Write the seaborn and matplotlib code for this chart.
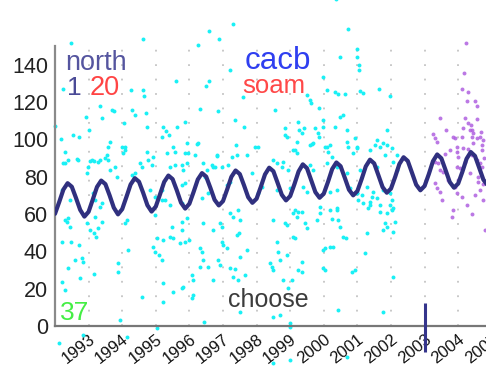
import numpy as np
import pandas as pd
import matplotlib
matplotlib.use("Agg")
import matplotlib.pyplot as plt
import seaborn as sns

sns.set_style("white")
plt.rcParams["font.family"] = ["Liberation Sans", "DejaVu Sans"]

# axis ticks
year_ticks = list(range(1993, 2006))
value_ticks = list(range(0, 141, 20))

# seasonal trend curve, sampled every eighth of a year from 1992.0
wave_start = 1992.0
wave_step = 0.125
wave_values = [
    60.1, 66.4, 73.1, 76.5, 74.6, 68.6, 62.2, 58.6,
    61.2, 67.8, 74.5, 77.9, 76.0, 70.0, 63.4, 59.8,
    62.6, 69.1, 75.8, 79.2, 77.3, 71.3, 64.7, 61.3,
    64.0, 70.5, 77.2, 80.6, 78.7, 72.7, 66.1, 62.9,
    65.5, 71.8, 78.5, 81.9, 80.0, 74.0, 67.6, 64.6,
    66.9, 73.2, 79.9, 83.3, 81.4, 75.4, 69.0, 66.0,
    68.2, 74.5, 81.2, 84.8, 82.9, 76.7, 70.3, 67.3,
    69.6, 75.9, 82.8, 86.6, 84.5, 78.1, 71.7, 68.7,
    70.9, 77.2, 84.1, 87.6, 85.6, 79.4, 73.0, 70.0,
    72.3, 78.6, 85.5, 89.1, 87.1, 80.8, 74.4, 71.4,
    73.6, 79.9, 86.8, 90.4, 88.4, 82.1, 75.7, 72.7,
    75.0, 81.3, 88.3, 91.9, 89.8, 83.5, 77.1, 74.1,
    76.3, 82.6, 89.6, 93.2, 91.1, 84.8, 78.4, 75.4,
    77.7, 84.0,
]

# observations, first period (year, value)
cyan_points = [
    (1992.48, 151.7), (1994.62, 153.9), (1996.58, 158.2), (1996.88, 153.9), (1997.30, 161.9),
    (1996.26, 150.7), (1997.21, 137.3), (1996.58, 131.4), (1996.49, 128.7), (1995.60, 131.4),
    (1994.62, 126.5), (1994.65, 123.3), (1994.26, 126.5), (1992.24, 127.1), (1993.34, 118.0),
    (1993.40, 111.5), (1993.70, 115.8), (1993.76, 115.3), (1994.29, 115.8), (1994.38, 113.1),
    (1994.71, 114.2), (1994.05, 108.8), (1992.92, 112.1), (1993.01, 105.1), (1992.54, 102.4),
    (1992.71, 101.3), (1992.00, 107.2), (1993.64, 98.7), (1993.58, 96.0), (1994.08, 96.0),
    (1994.74, 106.7), (1995.21, 106.7), (1995.30, 104.6), (1995.63, 106.7), (1995.87, 109.4),
    (1995.93, 98.1), (1996.23, 97.6), (1996.32, 116.4), (1996.85, 115.3), (1997.36, 110.5),
    (1997.39, 97.1), (1996.82, 91.2), (1995.18, 101.3), (1995.39, 102.4), (1995.51, 96.0),
    (1995.57, 93.3), (1995.87, 92.8), (1995.93, 87.4), (1996.17, 91.7), (1996.40, 87.4),
    (1996.52, 83.6), (1996.70, 85.3), (1994.74, 93.3), (1994.77, 89.0), (1994.53, 87.4),
    (1994.59, 85.3), (1994.89, 86.3), (1994.92, 90.6), (1993.55, 91.7), (1993.58, 89.0),
    (1993.16, 88.5), (1993.34, 89.0), (1993.04, 88.5), (1992.30, 93.3), (1992.39, 89.0),
    (1992.24, 87.4), (1992.65, 89.5), (1992.18, 100.3), (1993.64, 83.6),
    (2000.36, 175.0), (2000.72, 159.0), (2000.99, 148.5), (2000.48, 144.0), (2000.99, 144.0),
    (2001.05, 140.0), (2001.05, 137.0), (1999.98, 133.5), (2000.10, 126.5), (2000.33, 125.5),
    (2000.42, 124.4), (2000.63, 124.4), (2001.08, 126.0), (2001.17, 125.0), (2001.64, 127.0),
    (2001.97, 123.0), (1999.50, 124.0), (1999.59, 121.0), (1999.86, 117.0), (1999.62, 119.6),
    (1998.55, 115.8), (1997.60, 122.8), (1997.63, 106.7), (1998.85, 106.2), (1998.90, 101.3),
    (1999.23, 109.4), (1999.26, 105.1), (1999.41, 106.2), (1999.74, 106.2), (1999.83, 103.5),
    (1999.86, 101.3), (1999.98, 110.5), (1999.98, 106.7), (2000.48, 112.0), (2000.57, 113.0),
    (2000.33, 106.7), (2000.69, 105.0), (2000.93, 100.8), (2000.99, 96.0), (2001.58, 99.7),
    (2001.52, 97.0), (2001.88, 105.0), (2001.76, 98.0), (2001.88, 97.0), (2002.03, 95.4),
    (2002.18, 91.7), (1999.20, 98.7), (1999.14, 94.4), (1999.65, 97.6), (2000.10, 96.0),
    (2000.13, 93.3), (2000.24, 90.6), (1998.49, 89.0), (1998.76, 85.3), (1997.71, 91.7),
    (1992.36, 55.8), (1992.45, 53.0), (1993.04, 51.5), (1993.16, 49.9), (1993.28, 52.5),
    (1993.22, 47.7), (1992.95, 55.2), (1994.08, 55.0), (1994.14, 56.8), (1992.20, 45.0),
    (1992.48, 45.0), (1992.71, 43.4), (1992.60, 35.4), (1992.80, 36.5), (1992.83, 34.3),
    (1992.39, 31.0), (1992.74, 25.7), (1993.16, 27.9), (1994.17, 40.8), (1993.88, 33.8),
    (1993.88, 29.0), (1994.59, 15.5), (1995.21, 12.9), (1994.92, 42.4), (1994.98, 39.7),
    (1995.10, 38.1), (1995.18, 35.4), (1995.04, 47.2), (1995.21, 46.1), (1995.42, 47.7),
    (1995.51, 47.2), (1995.72, 44.5), (1995.87, 45.0), (1995.99, 46.1), (1995.48, 53.1),
    (1995.78, 51.5), (1996.32, 41.8), (1996.38, 39.7), (1996.40, 35.4), (1996.55, 31.6),
    (1996.32, 31.6), (1996.08, 27.3), (1996.11, 24.7), (1995.81, 20.9), (1995.78, 20.4),
    (1996.11, 16.6), (1996.08, 15.0), (1996.70, 24.7), (1996.85, 35.4), (1996.91, 32.7),
    (1997.00, 43.4), (1996.97, 45.0), (1997.12, 41.8), (1997.48, 49.9), (1997.51, 37.0),
    (1997.21, 31.1), (1997.36, 30.6), (1997.30, 26.3), (1997.45, 24.7), (1997.51, 7.5),
    (1996.43, 2.1), (1995.51, 18.2), (1992.12, -9.0), (1992.83, -4.8), (1994.14, -5.9),
    (1995.04, -1.1), (1993.93, 3.2), (1995.21, 23.0), (1995.78, 55.8), (1995.93, 57.9),
    (1996.40, 55.2), (1996.70, 51.5), (1996.91, 55.2), (1996.97, 53.1), (1997.21, 60.6),
    (1997.30, 58.4), (1997.42, 48.8), (1992.21, 23.6), (1992.30, 19.3),
    (1999.08, 60.6), (1999.20, 58.4), (1999.23, 61.1), (1998.85, 55.2), (1998.90, 54.2),
    (1998.49, 56.8), (1997.51, 56.8), (1998.61, 45.0), (1999.08, 47.7), (1999.14, 47.2),
    (1999.44, 55.2), (1999.50, 52.5), (1999.80, 56.8), (1999.89, 60.6), (2000.18, 62.2),
    (2000.24, 57.4), (2000.39, 62.2), (2000.48, 53.1), (2000.42, 56.8), (1999.98, 40.8),
    (2000.04, 41.8), (2000.18, 42.4), (2000.27, 42.4), (2000.57, 47.7), (2000.66, 47.2),
    (2001.29, 49.9), (2001.23, 39.1), (2000.93, 30.0), (2000.84, 29.0), (1999.98, 31.1),
    (2000.04, 30.0), (1999.35, 34.3), (1999.35, 29.0), (1999.23, 30.0), (1998.64, 39.7),
    (1998.70, 35.4), (1998.90, 38.1), (1998.49, 30.0), (1998.79, 24.7), (1999.05, 24.7),
    (1998.93, 20.4), (1997.71, 40.8), (1997.65, 27.3), (1998.40, 33.8), (1998.46, 31.6),
    (2000.42, 8.6), (1998.49, 4.8), (1998.70, 5.9), (1998.99, 1.6), (2001.76, 7.5),
    (2002.06, 26.3), (2001.76, 51.5), (2001.88, 53.1), (2001.82, 55.2), (2002.06, 50.4),
    (2002.12, 55.8), (2001.88, 60.6), (2001.97, 64.9), (2002.03, 67.6), (2002.06, 63.3),
    (2001.67, 64.9), (2001.58, 68.6), (2001.38, 64.9), (2001.32, 63.3), (2001.43, 69.2),
    (2001.29, 74.5), (2001.02, 67.6), (2001.14, 70.2), (2000.99, 71.3), (1998.99, -18.2),
    (1998.49, -19.8), (2000.69, -16.6), (1998.99, -0.5),
    (1992.30, 87.4), (1992.68, 89.0), (1992.95, 82.0), (1992.98, 85.3), (1993.10, 89.0),
    (1993.28, 88.0), (1993.49, 90.0), (1993.79, 85.3), (1993.85, 79.9), (1994.00, 96.0),
    (1994.08, 94.4), (1994.02, 92.8), (1994.38, 82.0), (1994.29, 81.0), (1994.83, 72.9),
    (1995.18, 72.9), (1994.98, 69.2), (1995.18, 67.6), (1995.33, 92.8), (1995.42, 85.3),
    (1995.57, 86.3), (1995.78, 86.3), (1995.81, 83.6), (1996.26, 98.1), (1995.96, 92.8),
    (1995.87, 76.7), (1995.78, 75.6), (1996.46, 79.9), (1996.67, 86.3), (1996.76, 85.3),
    (1996.82, 91.7), (1997.27, 90.6), (1997.42, 91.7), (1996.97, 85.3), (1997.15, 86.3),
    (1997.12, 75.6), (1997.21, 77.2), (1997.45, 62.2), (1997.95, 96.0), (1998.04, 96.0),
    (1998.04, 71.3), (1998.16, 74.5), (1997.86, 82.0), (1996.38, 68.6), (1996.55, 71.3),
    (1995.78, 66.0), (1995.87, 63.8), (1995.42, 64.9), (1993.19, 58.4), (1993.40, 55.8),
    (1992.30, 56.8), (1992.39, 57.9), (1995.27, 67.6), (1994.98, 59.5), (1992.21, 72.9),
    (1993.40, 66.0), (1993.13, 71.3), (1993.19, 67.6), (1993.34, 63.8), (1992.45, 67.6),
    (1998.85, 102.4), (1999.35, 103.5), (1999.08, 94.4), (1999.20, 92.8), (1999.59, 97.0),
    (1999.68, 98.0), (2000.04, 96.0), (2000.18, 97.0), (2000.69, 98.7), (2000.72, 96.0),
    (2000.87, 92.8), (2000.99, 95.4), (2001.38, 94.4), (2001.67, 96.0), (2001.82, 91.7),
    (1998.61, 87.4), (1998.79, 88.0), (1998.93, 83.6), (1999.59, 86.3), (1999.68, 83.6),
    (2000.10, 87.4), (2000.39, 85.3), (2000.69, 82.0), (2001.08, 83.6), (2001.58, 85.3),
    (2002.06, 88.0), (2002.18, 83.6), (1998.61, 72.9), (1998.99, 74.0), (1999.38, 74.5),
    (1999.50, 71.8), (2000.18, 71.8), (2000.39, 72.9), (2000.78, 74.0), (2000.99, 71.3),
    (2001.46, 71.8), (2001.76, 72.9), (2001.97, 71.3), (1999.14, 62.2), (1999.35, 61.1),
    (1999.89, 63.8), (2000.39, 63.3), (2001.17, 66.0), (2001.38, 66.5), (2001.67, 61.1),
    (2002.03, 62.2),
]

# observations, second period (year, value)
violet_points = [
    (2004.23, 151.7), (2004.17, 135.7), (2004.11, 127.1), (2004.29, 125.5), (2004.26, 120.6),
    (2004.50, 120.6), (2003.46, 111.5), (2004.20, 111.5), (2004.56, 111.0), (2004.29, 108.8),
    (2004.38, 107.8), (2004.14, 106.2), (2004.41, 105.1), (2003.25, 103.0), (2003.31, 100.8),
    (2003.37, 98.7), (2003.90, 100.8), (2004.11, 101.3), (2004.41, 101.3), (2004.56, 100.8),
    (2004.65, 101.3), (2004.74, 99.7), (2004.44, 98.1), (2004.71, 97.0), (2003.76, 94.4),
    (2003.96, 93.3), (2003.99, 90.6), (2003.31, 87.9), (2003.40, 87.4), (2004.41, 91.7),
    (2004.56, 89.0), (2004.65, 87.4), (2003.96, 85.3), (2004.05, 84.7), (2003.46, 83.6),
    (2003.55, 82.6), (2004.35, 82.0), (2004.59, 77.2), (2003.31, 76.7), (2003.37, 74.0),
    (2003.46, 71.8), (2003.90, 74.5), (2003.96, 71.3), (2003.52, 67.6), (2003.85, 62.2),
    (2003.82, 58.4), (2004.74, 67.6), (2004.11, 69.2), (2004.80, 51.5), (2004.65, 72.9),
    (2004.35, 105.1), (2004.44, 103.5), (2003.96, 96.0), (2004.14, 95.4), (2004.71, 94.4),
    (2003.85, 101.3), (2004.60, 80.0), (2004.70, 85.0), (2004.78, 90.0), (2004.50, 70.0),
    (2004.25, 65.0), (2004.40, 60.0), (2003.70, 78.0), (2003.60, 92.0), (2004.00, 78.0),
    (2004.20, 88.0), (2004.30, 95.0), (2004.75, 76.0), (2004.68, 104.0), (2004.55, 118.0),
    (2003.65, 105.0),
]

# event marker under the 2003 tick
marker_year = 2003
marker_span = [-14.0, 12.5]

cyan_df = pd.DataFrame(cyan_points, columns=["year", "value"])
violet_df = pd.DataFrame(violet_points, columns=["year", "value"])
wave_df = pd.DataFrame({
    "year": wave_start + wave_step * np.arange(len(wave_values)),
    "value": wave_values,
})

fig = plt.figure(figsize=(4.86, 3.67), dpi=100)
ax = fig.add_axes([55 / 486, 41 / 367, 443.5 / 486, 280 / 367])

sns.scatterplot(data=cyan_df, x="year", y="value", color="#19f0f5", s=8,
                linewidth=0, ax=ax, clip_on=False, zorder=2)
sns.scatterplot(data=violet_df, x="year", y="value", color="#b060e0", s=8,
                linewidth=0, ax=ax, clip_on=False, zorder=2, alpha=0.85)
sns.lineplot(data=wave_df, x="year", y="value", color="#30307f", lw=3.0,
             ax=ax, zorder=3)
ax.plot([marker_year, marker_year], marker_span, color="#35358c", lw=2.2,
        clip_on=False, zorder=4, solid_capstyle="butt")

ax.set_xlim(1992, 2005.2)
ax.set_ylim(0, 150)
ax.set_xlabel("")
ax.set_ylabel("")

ax.set_xticks(year_ticks)
ax.set_xticklabels([str(y) for y in year_ticks], rotation=38, ha="right",
                   rotation_mode="anchor", va="top")
ax.set_yticks(value_ticks)
ax.tick_params(axis="x", direction="in", length=9.5, width=1.6, color="#777777",
               labelsize=12, pad=4, labelcolor="#111111")
ax.tick_params(axis="y", direction="in", length=13, width=1.5, color="#111111",
               labelsize=15.5, pad=5, labelcolor="#222222")

ax.xaxis.grid(True, linestyle=(0, (1, 7)), color="#c4c4c4", lw=1.3)
ax.yaxis.grid(False)
ax.set_axisbelow(True)

for side in ("top", "right"):
    ax.spines[side].set_visible(False)
ax.spines["left"].set_color("#8a8a8a")
ax.spines["left"].set_linewidth(1.6)
ax.spines["bottom"].set_color("#777777")
ax.spines["bottom"].set_linewidth(1.6)

ax.text(1992.3, 137.3, "north", color="#55559f", fontsize=19.5, va="baseline")
ax.text(1992.36, 123.9, "1", color="#4a4a96", fontsize=19, va="baseline")
ax.text(1993.04, 123.9, "20", color="#ff4444", fontsize=19.5, va="baseline")
ax.text(1998.64, 137.5, "cacb", color="#2f3ff0", fontsize=22.5, ha="center", va="baseline")
ax.text(1998.52, 125.0, "soam", color="#ff4848", fontsize=18.5, ha="center", va="baseline")
ax.text(1992.15, 3.2, "37", color="#44ee44", fontsize=19, va="baseline")
ax.text(1997.15, 10.2, "choose", color="#3c3c3c", fontsize=18, va="baseline")

fig.savefig("out.png", dpi=100)
